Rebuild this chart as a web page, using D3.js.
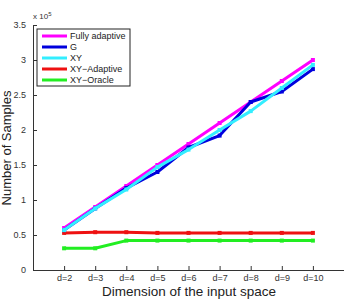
<!DOCTYPE html>
<html><head><meta charset="utf-8">
<script src="https://cdn.jsdelivr.net/npm/d3@7"></script>
<style>body{margin:0;background:#fff}svg{display:block}text{font-family:"Liberation Sans",Arial,sans-serif}</style>
</head><body><svg id="c" width="344" height="301"></svg>
<script>
const dims = [2,3,4,5,6,7,8,9,10];
const tickLabels = ["d=2","d=3","d=4","d=5","d=6","d=7","d=8","d=9","d=10"];
const seriesNames = ["Fully adaptive","G","XY","XY\u2212Adaptive","XY\u2212Oracle"];
const seriesColors = ["#ff00ff","#0000dd","#33eeff","#ee1111","#22ee22"];
const fullyAdaptive = [0.60,0.90,1.20,1.50,1.80,2.10,2.40,2.70,3.00];
const gVals = [0.57,0.88,1.17,1.40,1.75,1.92,2.40,2.55,2.87];
const xyVals = [0.57,0.88,1.15,1.47,1.72,2.00,2.27,2.60,2.93];
const xyAdaptive = [0.53,0.54,0.54,0.53,0.53,0.53,0.53,0.53,0.53];
const xyOracle = [0.31,0.31,0.42,0.42,0.42,0.42,0.42,0.42,0.42];
const yTicks = [0,0.5,1,1.5,2,2.5,3,3.5];

const series = [fullyAdaptive,gVals,xyVals,xyAdaptive,xyOracle];
const svg = d3.select("#c");
const x = d3.scaleLinear().domain([1,11]).range([33,344]);
const y = d3.scaleLinear().domain([0,3.5]).range([270,25]);

// axes
const xa = svg.append("g").attr("transform","translate(0,270)")
  .call(d3.axisBottom(x).tickValues(dims).tickFormat((d,i)=>tickLabels[i]).tickSizeInner(-4).tickSizeOuter(0).tickPadding(5));
xa.select(".domain").attr("stroke","#333");
xa.selectAll("line").attr("stroke","#333");
xa.selectAll("text").attr("font-size",9).attr("fill","#333");
const ya = svg.append("g").attr("transform","translate(33,0)")
  .call(d3.axisLeft(y).tickValues(yTicks).tickFormat(d=>d).tickSizeInner(-4).tickSizeOuter(0).tickPadding(7));
ya.select(".domain").attr("stroke","#333");
ya.selectAll("line").attr("stroke","#333");
ya.selectAll("text").attr("font-size",9).attr("fill","#333");

// exponent
const ex = svg.append("text").attr("x",33).attr("y",19).attr("font-size",8).attr("fill","#333");
ex.append("tspan").text("x 10");
ex.append("tspan").attr("dy",-3).attr("font-size",6).text("5");

// labels
svg.append("text").attr("x",189).attr("y",296).attr("text-anchor","middle").attr("font-size",13.5).attr("fill","#222").text("Dimension of the input space");
svg.append("text").attr("transform","translate(11,148) rotate(-90)").attr("text-anchor","middle").attr("font-size",13).attr("fill","#222").text("Number of Samples");

const line = d3.line().x((d,i)=>x(dims[i])).y(d=>y(d));
const order = [4,3,0,1,2];
order.forEach(k=>{
  svg.append("path").datum(series[k]).attr("d",line).attr("fill","none")
    .attr("stroke",seriesColors[k]).attr("stroke-width",3).attr("stroke-linejoin","round");
  svg.append("g").selectAll("rect").data(series[k]).join("rect")
    .attr("x",(d,i)=>x(dims[i])-2).attr("y",d=>y(d)-2).attr("width",4).attr("height",4)
    .attr("fill",seriesColors[k]);
});

// legend
const lg = svg.append("g");
lg.append("rect").attr("x",37).attr("y",29).attr("width",93).attr("height",57).attr("fill","#fff").attr("stroke","#222").attr("stroke-width",1);
seriesNames.forEach((n,i)=>{
  const yy = 36 + i*11;
  lg.append("line").attr("x1",42).attr("x2",67).attr("y1",yy).attr("y2",yy).attr("stroke",seriesColors[i]).attr("stroke-width",3);
  lg.append("text").attr("x",70).attr("y",yy+3).attr("font-size",9).attr("fill","#222").text(n);
});
</script></body></html>
